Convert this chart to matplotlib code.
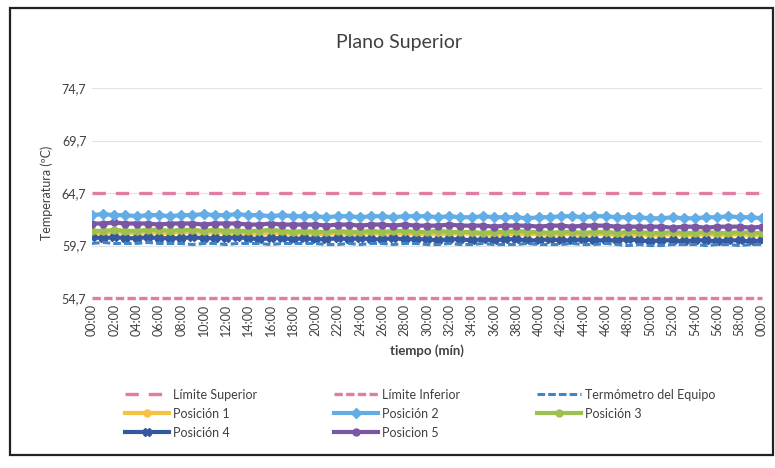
import matplotlib.pyplot as plt
from matplotlib.patches import Rectangle

plt.rcParams['font.family'] = ['Lato', 'DejaVu Sans']

# tiempo en minutos (una lectura por minuto)
minutos = list(range(61))
etiquetas = ['%02d:00' % (m % 60) for m in range(0, 61, 2)]

lim_sup = [64.7] * 61
lim_inf = [54.7] * 61

termometro = [59.9, 60.0, 59.9, 59.9, 59.9, 60.0, 59.9, 59.9, 59.9, 59.8,
              59.9, 59.9, 59.8, 59.9, 59.9, 59.9, 59.8, 59.9, 59.9, 59.9,
              59.9, 59.8, 59.8, 59.9, 59.8, 59.9, 59.9, 59.8, 59.9, 59.9,
              59.8, 59.8, 59.9, 59.8, 59.8, 59.9, 59.8, 59.8, 59.8, 59.9,
              59.8, 59.8, 59.8, 59.9, 59.8, 59.8, 59.9, 59.8, 59.7, 59.8,
              59.7, 59.7, 59.8, 59.8, 59.8, 59.7, 59.8, 59.8, 59.7, 59.8, 59.8]

pos1 = [60.9, 60.9, 61.0, 60.9, 60.9, 61.0, 60.9, 60.9, 61.0, 61.0,
        60.9, 61.0, 60.9, 60.9, 60.9, 60.8, 60.9, 60.9, 60.8, 60.9,
        60.8, 60.8, 60.9, 60.8, 60.8, 60.9, 60.8, 60.8, 60.9, 60.8,
        60.8, 60.8, 60.8, 60.9, 60.8, 60.8, 60.7, 60.8, 60.8, 60.8,
        60.8, 60.7, 60.8, 60.8, 60.7, 60.8, 60.8, 60.7, 60.7, 60.8,
        60.7, 60.7, 60.8, 60.7, 60.7, 60.8, 60.7, 60.7, 60.8, 60.7, 60.7]

pos2 = [62.6, 62.7, 62.6, 62.6, 62.5, 62.6, 62.6, 62.5, 62.6, 62.6,
        62.7, 62.6, 62.6, 62.7, 62.6, 62.6, 62.5, 62.6, 62.5, 62.5,
        62.5, 62.4, 62.5, 62.5, 62.4, 62.5, 62.5, 62.4, 62.5, 62.5,
        62.5, 62.4, 62.5, 62.4, 62.4, 62.5, 62.4, 62.4, 62.4, 62.3,
        62.4, 62.4, 62.5, 62.5, 62.4, 62.5, 62.5, 62.4, 62.4, 62.4,
        62.3, 62.3, 62.4, 62.3, 62.3, 62.4, 62.4, 62.5, 62.4, 62.4, 62.3]

pos3 = [61.1, 61.1, 61.2, 61.1, 61.1, 61.2, 61.2, 61.1, 61.2, 61.2,
        61.1, 61.2, 61.1, 61.1, 61.1, 61.1, 61.2, 61.1, 61.0, 61.1,
        61.0, 61.0, 61.1, 61.0, 61.0, 61.1, 61.0, 61.1, 61.1, 61.0,
        61.0, 61.1, 61.0, 61.0, 61.0, 60.9, 61.0, 61.0, 61.1, 61.0,
        61.0, 60.9, 61.0, 61.0, 60.9, 61.0, 61.0, 60.9, 61.0, 61.0,
        60.9, 60.9, 61.0, 60.9, 60.9, 61.0, 60.9, 60.9, 61.0, 60.9, 60.9]

pos4 = [60.5, 60.4, 60.5, 60.4, 60.4, 60.5, 60.4, 60.4, 60.4, 60.5,
        60.4, 60.4, 60.4, 60.5, 60.4, 60.3, 60.4, 60.4, 60.3, 60.4,
        60.3, 60.3, 60.4, 60.3, 60.4, 60.3, 60.3, 60.4, 60.3, 60.3,
        60.3, 60.2, 60.3, 60.3, 60.2, 60.3, 60.2, 60.3, 60.3, 60.2,
        60.2, 60.3, 60.2, 60.2, 60.3, 60.2, 60.2, 60.2, 60.3, 60.2,
        60.1, 60.2, 60.2, 60.1, 60.2, 60.2, 60.1, 60.2, 60.2, 60.1, 60.2]

pos5 = [61.8, 61.8, 61.9, 61.8, 61.8, 61.8, 61.7, 61.8, 61.8, 61.8,
        61.7, 61.8, 61.8, 61.8, 61.7, 61.7, 61.8, 61.7, 61.7, 61.7,
        61.7, 61.6, 61.7, 61.7, 61.6, 61.7, 61.7, 61.6, 61.7, 61.6,
        61.6, 61.6, 61.7, 61.6, 61.6, 61.6, 61.5, 61.6, 61.6, 61.6,
        61.5, 61.6, 61.6, 61.5, 61.6, 61.6, 61.6, 61.5, 61.5, 61.5,
        61.5, 61.5, 61.4, 61.5, 61.5, 61.4, 61.5, 61.5, 61.5, 61.4, 61.5]

fig = plt.figure(figsize=(7.75, 4.68), dpi=100)
ax = fig.add_axes([0.1187, 0.363, 0.8645, 0.449])

l_sup, = ax.plot(minutos, lim_sup, color='#E17DA5', lw=2.4, dashes=(4, 3), label='Límite Superior')
l_inf, = ax.plot(minutos, lim_inf, color='#E17DA5', lw=2.4, dashes=(2.5, 1), label='Límite Inferior',
                 clip_on=False)
p1, = ax.plot(minutos, pos1, color='#F5C242', lw=3, marker='o', ms=5, label='Posición 1')
p4, = ax.plot(minutos, pos4, color='#35589E', lw=3, marker='X', ms=6, label='Posición 4')
p3, = ax.plot(minutos, pos3, color='#9CC14F', lw=3, marker='o', ms=5, label='Posición 3')
p5, = ax.plot(minutos, pos5, color='#7A56A4', lw=3, marker='o', ms=5, label='Posicion 5')
p2, = ax.plot(minutos, pos2, color='#62ADE6', lw=3, marker='D', ms=5, label='Posición 2')
term, = ax.plot(minutos, termometro, color='#3F86C8', lw=2.2, dashes=(2.5, 1), label='Termómetro del Equipo')

ax.set_xlim(0, 60)
ax.set_ylim(54.7, 74.7)
ax.set_yticks([54.7, 59.7, 64.7, 69.7, 74.7])
ax.set_yticklabels(['54,7', '59,7', '64,7', '69,7', '74,7'])
ax.set_xticks(range(0, 61, 2))
ax.set_xticklabels(etiquetas, rotation=90)
ax.tick_params(axis='both', length=0, labelsize=9, colors='#404040', pad=4)
ax.grid(axis='y', color='#e3e3e3', lw=0.8)
ax.set_axisbelow(True)
for s in ax.spines.values():
    s.set_visible(False)

ax.set_ylabel('Temperatura (ºC)', fontsize=9, color='#404040', labelpad=6)
ax.set_xlabel('tiempo (mín)', fontsize=9.5, color='#404040', fontweight='bold', labelpad=6)
fig.text(0.515, 0.91, 'Plano Superior', ha='center', va='center', fontsize=14, color='#404040')

handles = [l_sup, p1, p4, l_inf, p2, p5, term, p3]
fig.legend(handles=handles, labels=[h.get_label() for h in handles], ncol=3,
           loc='upper left', bbox_to_anchor=(0.155, 0.18), frameon=False,
           fontsize=9, labelcolor='#404040', handlelength=3.5, handletextpad=0.3,
           columnspacing=6.2, labelspacing=0.55, borderaxespad=0)

fig.patches.append(Rectangle((0.013, 0.027), 0.985, 0.955, transform=fig.transFigure,
                             fill=False, edgecolor='#222222', lw=1.6))

plt.savefig('out.png', dpi=100)
